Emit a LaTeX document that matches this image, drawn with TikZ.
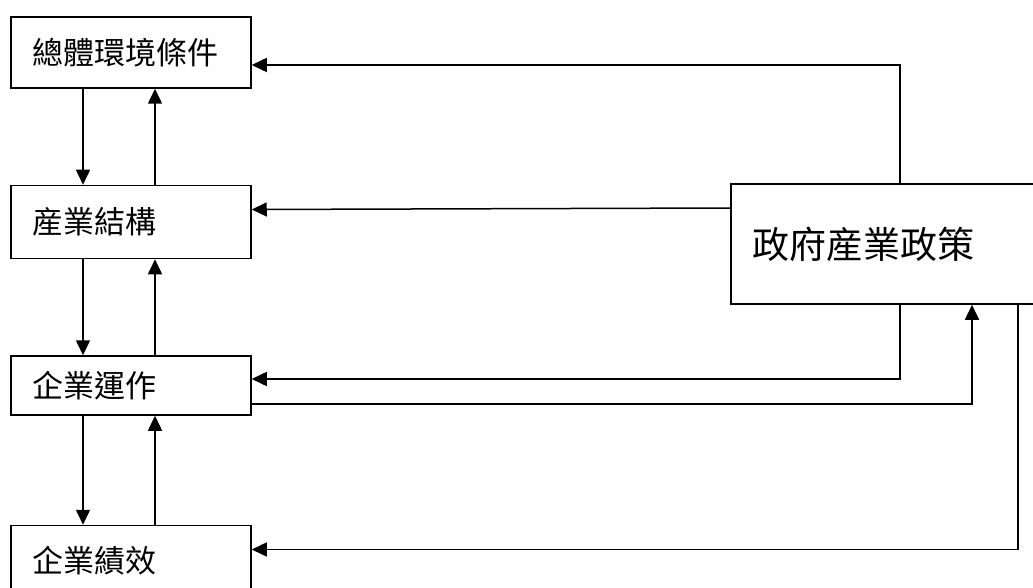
\documentclass[tikz,border=0pt]{standalone}
\usepackage{fontspec}
\setmainfont{Noto Sans CJK TC}
\usetikzlibrary{arrows.meta,positioning}

\begin{document}
\begin{tikzpicture}[
    x=1pt, y=-1pt,
    box/.style={rectangle, draw, line width=1.5pt, minimum width=240pt, inner xsep=21pt, text width=198pt, align=left, font=\fontsize{31}{36}\selectfont},
    policybox/.style={rectangle, draw, line width=1.5pt, minimum width=338pt, minimum height=120pt, inner xsep=21pt, text width=296pt, align=left, font=\fontsize{37}{42}\selectfont},
    arrow/.style={-{Triangle[length=15pt,width=14pt]}, line width=1.5pt}
]
    \useasboundingbox (0,0) rectangle (1033,588);
    \clip (0,0) rectangle (1033,588);
    % Levels
    \node[box, minimum height=71pt] (env) at (131,52.5) {總體環境條件};
    \node[box, minimum height=73pt, below=96pt of env] (struct) {産業結構};
    \node[box, minimum height=59pt, below=96pt of struct] (oper) {企業運作};
    \node[box, minimum height=71pt, below=109pt of oper] (perf) {企業績效};
    \node[policybox] (policy) at (900,244) {政府産業政策};

    % Arrows between levels
    \draw[arrow] ([xshift=-48pt]env.south) -- ([xshift=-48pt]struct.north);
    \draw[arrow] ([xshift=24pt]struct.north) -- ([xshift=24pt]env.south);
    \draw[arrow] ([xshift=-48pt]struct.south) -- ([xshift=-48pt]oper.north);
    \draw[arrow] ([xshift=24pt]oper.north) -- ([xshift=24pt]struct.south);
    \draw[arrow] ([xshift=-48pt]oper.south) -- ([xshift=-48pt]perf.north);
    \draw[arrow] ([xshift=24pt]perf.north) -- ([xshift=24pt]oper.south);

    % Policy arrows
    \draw[arrow] (policy.north) |- ([yshift=-12.5pt]env.east);
    \draw[arrow] ([yshift=36pt]policy.west) -- ([yshift=12.5pt]struct.east);
    \draw[arrow] (policy.south) |- ([yshift=6.5pt]oper.east);
    \draw[arrow] ([yshift=-18.5pt]oper.east) -| ([xshift=72pt]policy.south);
    \draw[arrow] ([xshift=118pt]policy.south) |- ([yshift=11.5pt]perf.east);
\end{tikzpicture}
\end{document}
